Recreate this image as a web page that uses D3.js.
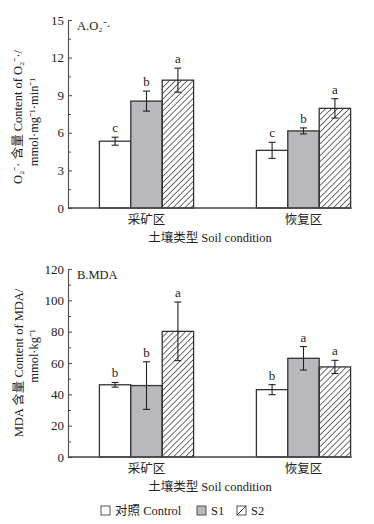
<!DOCTYPE html>
<html>
<head>
<meta charset="utf-8">
<script src="https://cdn.jsdelivr.net/npm/d3@7"></script>
<style>
  body { margin: 0; background: #fff; }
  svg text { font-family: "Liberation Serif", "Noto Sans CJK SC", serif; fill: #222; }
  .cjk { font-family: "Noto Sans CJK SC", sans-serif; }
</style>
</head>
<body>
<div id="wrapper"></div>
<script>
// categories and series
const sites = ["采矿区", "恢复区"];
const series = ["对照 Control", "S1", "S2"];

// panel A: O2- content (mean, error, letter)
const o2Mean = [[5.33, 8.53, 10.2], [4.6, 6.15, 7.95]];
const o2Err = [[0.32, 0.8, 0.96], [0.64, 0.24, 0.77]];
const o2Letters = [["c", "b", "a"], ["c", "b", "a"]];
const o2Ticks = [0, 3, 6, 9, 12, 15];

// panel B: MDA content
const mdaMean = [[46.1, 45.6, 80.2], [43.0, 63.0, 57.5]];
const mdaErr = [[1.5, 15.2, 18.7], [3.2, 7.5, 4.2]];
const mdaLetters = [["b", "b", "a"], ["b", "a", "a"]];
const mdaTicks = [0, 20, 40, 60, 80, 100, 120];

const width = 374, height = 524;
const svg = d3.select("#wrapper").append("svg")
    .attr("width", width)
    .attr("height", height);

// hatch pattern
const defs = svg.append("defs");
defs.append("pattern")
    .attr("id", "hatch")
    .attr("patternUnits", "userSpaceOnUse")
    .attr("width", 4.2)
    .attr("height", 4.2)
    .attr("patternTransform", "rotate(45)")
    .append("line")
    .attr("x1", 0).attr("y1", 0)
    .attr("x2", 0).attr("y2", 4.2)
    .attr("stroke", "#222")
    .attr("stroke-width", 1.3);

const fills = ["#fff", "#b9b9bd", "url(#hatch)"];

// x scales shared by both panels
const xGroup = d3.scaleBand().domain(sites).range([68, 382]).padding(0);
const xInner = d3.scaleBand().domain(series)
    .range([xGroup.bandwidth() * 0.2, xGroup.bandwidth() * 0.8]).padding(0);

function drawPanel(cfg) {
    const y = d3.scaleLinear().domain(cfg.domain).range([cfg.bottom, cfg.top]);
    const g = svg.append("g");

    // bars
    sites.forEach((site, i) => {
        series.forEach((s, j) => {
            const x0 = xGroup(site) + xInner(s);
            const v = cfg.mean[i][j], e = cfg.err[i][j];
            const cx = x0 + xInner.bandwidth() / 2;
            g.append("rect")
                .attr("x", x0)
                .attr("y", y(v))
                .attr("width", xInner.bandwidth())
                .attr("height", y(0) - y(v))
                .attr("fill", fills[j])
                .attr("stroke", "#333")
                .attr("stroke-width", 1.3);
            // error bar
            g.append("line")
                .attr("x1", cx).attr("x2", cx)
                .attr("y1", y(v + e)).attr("y2", y(v - e))
                .attr("stroke", "#222").attr("stroke-width", 1.1);
            [v + e, v - e].forEach(t => {
                g.append("line")
                    .attr("x1", cx - 3.5).attr("x2", cx + 3.5)
                    .attr("y1", y(t)).attr("y2", y(t))
                    .attr("stroke", "#222").attr("stroke-width", 1.1);
            });
            g.append("text")
                .attr("x", cx)
                .attr("y", y(v + e) - 5)
                .attr("text-anchor", "middle")
                .attr("font-size", 13)
                .text(cfg.letters[i][j]);
        });
    });

    // y axis, ticks pointing inward
    const step = cfg.ticks[1] - cfg.ticks[0];
    const minor = d3.range(cfg.domain[0] + step / 2, cfg.domain[1], step);
    g.append("g")
        .attr("transform", "translate(68,0)")
        .call(d3.axisRight(y).tickValues(minor).tickSize(3).tickFormat(""))
        .call(a => a.selectAll("line").attr("stroke", "#555"))
        .call(a => a.select(".domain").remove());
    const yAxis = g.append("g")
        .attr("transform", "translate(68,0)")
        .call(d3.axisRight(y).tickValues(cfg.ticks).tickSize(4).tickSizeOuter(0));
    yAxis.select(".domain").attr("stroke", "#555").attr("stroke-width", 1.2);
    yAxis.selectAll(".tick line").attr("stroke", "#555").attr("stroke-width", 1.1);
    yAxis.selectAll(".tick text")
        .attr("x", -4)
        .attr("text-anchor", "end")
        .attr("font-size", 13)
        .attr("font-family", "Liberation Serif")
        .attr("fill", "#222");

    // baseline
    const xEnd = xGroup(sites[1]) + xInner(series[2]) + xInner.bandwidth() + 1;
    g.append("line")
        .attr("x1", 68).attr("x2", xEnd)
        .attr("y1", y(0)).attr("y2", y(0))
        .attr("stroke", "#444").attr("stroke-width", 1.3);

    // category labels
    sites.forEach(site => {
        g.append("text")
            .attr("class", "cjk")
            .attr("x", xGroup(site) + xGroup.bandwidth() / 2)
            .attr("y", y(0) + 16)
            .attr("text-anchor", "middle")
            .attr("font-size", 12.5)
            .text(site);
    });

    // x title
    const xt = g.append("text")
        .attr("x", 210)
        .attr("y", y(0) + 34)
        .attr("text-anchor", "middle")
        .attr("font-size", 12.5);
    xt.append("tspan").attr("class", "cjk").text("土壤类型");
    xt.append("tspan").text(" Soil condition");

    // panel label
    g.append("text")
        .attr("x", 77)
        .attr("y", cfg.top + 10)
        .attr("font-size", 12.5)
        .text(cfg.panel);

    // y title, two rotated lines
    cfg.yLines.forEach((parts, k) => {
        const t = g.append("text")
            .attr("transform", `translate(${cfg.yX[k]},${cfg.yC[k]}) rotate(-90)`)
            .attr("text-anchor", "middle")
            .attr("font-size", 12.5);
        parts.forEach(p => {
            const ts = t.append("tspan").text(p.t);
            if (p.cjk) ts.attr("class", "cjk");
        });
    });
}

drawPanel({
    domain: [0, 15], top: 20, bottom: 208,
    mean: o2Mean, err: o2Err, letters: o2Letters, ticks: o2Ticks,
    panel: "A.O₂⁻·",
    yLines: [
        [{t: "O₂⁻· "}, {t: "含量", cjk: true}, {t: " Content of O₂⁻·/"}],
        [{t: "mmol·mg⁻¹·min⁻¹"}]
    ],
    yX: [22, 38], yC: [117, 122]
});

drawPanel({
    domain: [0, 120], top: 269, bottom: 457,
    mean: mdaMean, err: mdaErr, letters: mdaLetters, ticks: mdaTicks,
    panel: "B.MDA",
    yLines: [
        [{t: "MDA "}, {t: "含量", cjk: true}, {t: " Content of MDA/"}],
        [{t: "mmol·kg⁻¹"}]
    ],
    yX: [23, 38], yC: [363, 356]
});

// legend
const legendX = [101, 197, 237];
const legend = svg.append("g").attr("transform", "translate(0,506)");
series.forEach((s, j) => {
    const item = legend.append("g").attr("transform", `translate(${legendX[j]},0)`);
    item.append("rect")
        .attr("width", 9).attr("height", 9)
        .attr("fill", j === 2 ? "#fff" : fills[j])
        .attr("stroke", "#555").attr("stroke-width", 1);
    if (j === 2) {
        item.append("line")
            .attr("x1", 0).attr("y1", 9).attr("x2", 9).attr("y2", 0)
            .attr("stroke", "#333").attr("stroke-width", 1);
    }
    const t = item.append("text")
        .attr("x", 14).attr("y", 9)
        .attr("font-size", 12.5);
    if (j === 0) {
        t.append("tspan").attr("class", "cjk").text("对照");
        t.append("tspan").text(" Control");
    } else {
        t.text(s);
    }
});
</script>
</body>
</html>
